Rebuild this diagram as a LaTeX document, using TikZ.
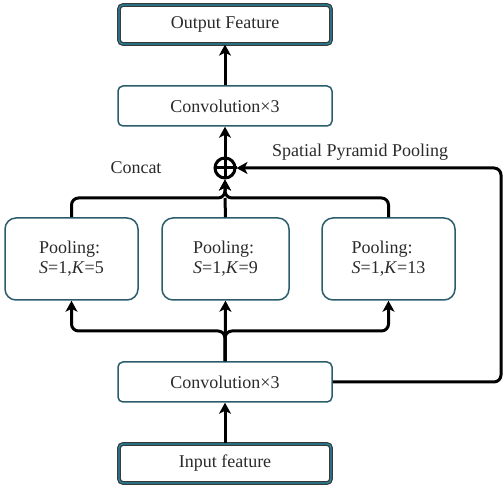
\documentclass[tikz,border=0pt]{standalone}
\usepackage{fontspec}
\setmainfont{Liberation Serif}
\usetikzlibrary{arrows.meta}
\definecolor{boxteal}{HTML}{2B5C6B}
\definecolor{ioteal}{HTML}{1F8CAA}
\definecolor{iodark}{HTML}{3A3A3A}
\definecolor{txt}{HTML}{2A2A2A}
\begin{document}
\begin{tikzpicture}[x=1pt,y=-1pt,
  font=\fontsize{18}{20}\selectfont, text=txt,
  conn/.style={line width=3pt, draw=black, rounded corners=7pt},
  arr/.style={conn, -{Stealth[length=11pt,width=12pt,inset=3pt]}},
  iobox/.style={draw=iodark, line width=1.3pt, double=ioteal, double distance=1.2pt,
    rounded corners=4pt, minimum width=212pt, minimum height=39pt, inner sep=0pt},
  convbox/.style={draw=boxteal, line width=1.5pt, rounded corners=5pt,
    minimum width=214pt, minimum height=40pt, inner sep=0pt},
  poolbox/.style={draw=boxteal, line width=1.5pt, rounded corners=11pt,
    minimum width=132pt, minimum height=82pt, align=left, inner sep=0pt}
]
\useasboundingbox (0,0) rectangle (504,489);
\node[iobox] (out) at (225,24.5) {Output Feature};
\node[convbox] (conv2) at (225,106) {Convolution×3};
\node[draw=black, line width=3pt, circle, minimum size=20pt, inner sep=0pt] (cc) at (225,168) {};
\draw[line width=3pt] (cc.north) -- (cc.south) (cc.west) -- (cc.east);
\node (concat) at (136,168) {Concat};
\node (spp) at (360,152) {Spatial Pyramid Pooling};
\node[poolbox, minimum width=133pt] (p1) at (71.5,259) {Pooling:\\\textit{S}=1,\textit{K}=5};
\node[poolbox, minimum width=127pt] (p2) at (225.5,259) {Pooling:\\\textit{S}=1,\textit{K}=9};
\node[poolbox, minimum width=133pt] (p3) at (388.5,259) {Pooling:\\\textit{S}=1,\textit{K}=13};
\node[convbox] (conv1) at (225,382) {Convolution×3};
\node[iobox] (in) at (225,463.5) {Input feature};
\coordinate (bus) at (225,331);
\coordinate (tb) at (225,198);
\coordinate (sr) at (501,382);
% connectors
\draw[arr] (in) -- (conv1);
\draw[arr] (conv1.north) -- (p2.south);
\draw[arr] (conv1.north) -- (bus) -| (p1.south);
\draw[arr] (conv1.north) -- (bus) -| (p3.south);
\draw[conn] (p2.north) -- (tb);
\draw[arr] (p1.north) |- (tb) -- (cc.south);
\draw[arr] (p3.north) |- (tb) -- (cc.south);
\draw[arr] (conv1.east) -- (sr) |- (cc.east);
\draw[arr] (cc.north) -- (conv2.south);
\draw[arr] (conv2.north) -- (out.south);
\end{tikzpicture}
\end{document}
